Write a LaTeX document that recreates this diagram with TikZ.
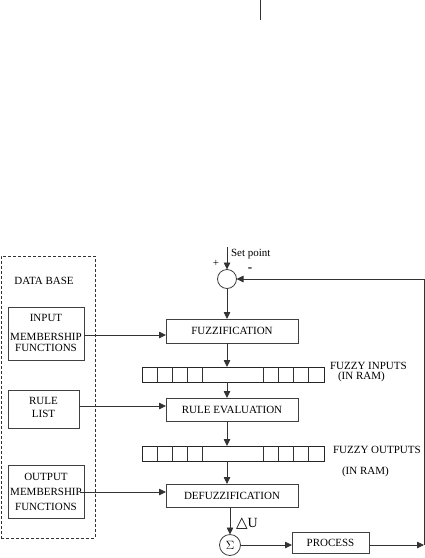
\documentclass[tikz,border=0pt]{standalone}
\usepackage{fontspec}
\setmainfont{Liberation Serif}
\newfontfamily\symfont{DejaVu Sans}
\usetikzlibrary{arrows.meta,calc}
\begin{document}
\begin{tikzpicture}[x=1pt,y=-1pt,
  every node/.style={inner sep=0pt, outer sep=0pt},
  txt/.style={font=\fontsize{11}{11}\selectfont},
  blk/.style={draw=black!75, line width=0.8pt, font=\fontsize{11}{11}\selectfont, align=center},
  reg/.style={draw=black!85, line width=0.8pt, minimum width=182pt, minimum height=15pt},
  sumc/.style={draw=black!75, line width=0.8pt, circle, minimum size=19pt},
  ln/.style={draw=black!80, line width=0.8pt},
  arr/.style={ln, -{Triangle[length=7pt,width=6.5pt]}},
  dbox/.style={draw=black!80, line width=0.7pt, densely dashed}
]
\useasboundingbox (0,0) rectangle (425,558);
% stray mark at top
\coordinate (m1) at (260.5,0);
\coordinate (m2) at (260.5,20);
\draw[ln] (m1) -- (m2);

% database
\node[dbox, minimum width=94pt, minimum height=282pt] (db) at (48,397) {};
\node[txt] (dbt) at (44,281) {DATA BASE};
\node[blk, minimum width=76pt, minimum height=53pt] (imf) at (46,333.5) {};
\node[txt, align=center] (imft) at (46,333) {INPUT\\[8pt]MEMBERSHIP\\FUNCTIONS};
\node[blk, minimum width=71pt, minimum height=38pt] (rl) at (43.5,409) {};
\node[txt, align=center] (rlt) at (43.5,407) {RULE\\[2pt]LIST};
\node[blk, minimum width=76pt, minimum height=53pt] (omf) at (46,491.5) {};
\node[txt, align=center] (omft) at (46,491.5) {OUTPUT\\[4pt]MEMBERSHIP\\[4pt]FUNCTIONS};

% main chain
\node[sumc] (sum) at (227,279) {};
\coordinate (sp) at (227,247);
\node[txt, anchor=west] (spt) at (231,254) {Set point};
\node[txt] (plus) at (216,263) {+};
\node[font=\fontsize{13}{13}\selectfont\bfseries] (minus) at (250,270) {-};

\node[blk, minimum width=132pt, minimum height=24pt] (fuzz) at (232,331) {FUZZIFICATION};
\node[reg] (fin) at (233,374.5) {};
\node[blk, minimum width=132pt, minimum height=23pt] (rule) at (232,409.5) {RULE EVALUATION};
\node[reg] (fout) at (233,453.5) {};
\node[blk, minimum width=132pt, minimum height=23pt] (defuzz) at (232,495.5) {DEFUZZIFICATION};
\node[sumc, minimum width=21pt, minimum height=21pt, font=\fontsize{12}{12}\selectfont] (sig) at (230,545) {$\Sigma$};
\node[anchor=west] (du) at (236,524) {{\symfont\fontsize{15}{15}\selectfont △}{\fontsize{14}{14}\selectfont U}};
\node[blk, minimum width=77pt, minimum height=21pt] (proc) at (330.5,542.5) {PROCESS};

% register cells
\foreach \k in {1,2,3,4,8,9,10,11}{
  \draw[ln] ($(fin.north west)+(\k*15.1667,0)$) -- ($(fin.south west)+(\k*15.1667,0)$);
  \draw[ln] ($(fout.north west)+(\k*15.1667,0)$) -- ($(fout.south west)+(\k*15.1667,0)$);
}

\node[txt, anchor=west] (fit) at (330,366) {FUZZY INPUTS};
\node[txt, anchor=west] (fir) at (338,377) {(IN RAM)};
\node[txt, anchor=west] (fot) at (333,450) {FUZZY OUTPUTS};
\node[txt, anchor=west] (for) at (342,472) {(IN RAM)};

% flow arrows
\draw[arr] (sp) -- (sum.north);
\draw[arr] (sum.south) -- (sum.south |- fuzz.north);
\draw[arr] (sum.south |- fuzz.south) -- (sum.south |- fin.north);
\draw[arr] (sum.south |- fin.south) -- (sum.south |- rule.north);
\draw[arr] (sum.south |- rule.south) -- (sum.south |- fout.north);
\draw[arr] (sum.south |- fout.south) -- (sum.south |- defuzz.north);
\draw[arr] (sig.north |- defuzz.south) -- (sig.north);
\draw[arr] (sig.east) -- (sig.east -| proc.west);
\coordinate (corner) at (424,545);
\coordinate (fbtop) at (424,279);
\draw[arr] (proc.east |- sig.east) -- (corner);
\draw[arr] (corner) -- (fbtop) -- (sum.east);

% database arrows
\draw[arr] (imf.east |- 0,335) -- (fuzz.west |- 0,335);
\draw[arr] (rl.east |- 0,406) -- (rule.west |- 0,406);
\draw[arr] (80,492) -- (defuzz.west |- 0,492);
\end{tikzpicture}
\end{document}
